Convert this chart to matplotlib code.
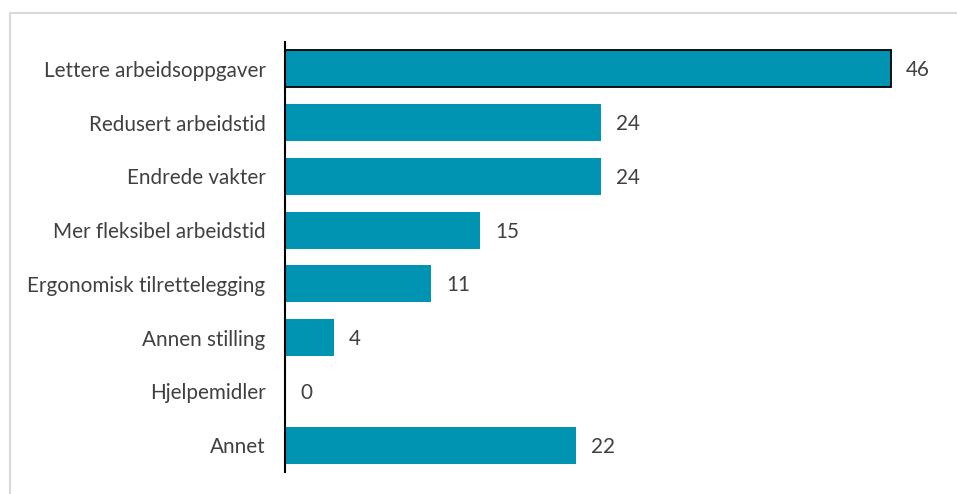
import matplotlib.pyplot as plt
from matplotlib.patches import Rectangle

categories = ["Lettere arbeidsoppgaver", "Redusert arbeidstid", "Endrede vakter",
              "Mer fleksibel arbeidstid", "Ergonomisk tilrettelegging", "Annen stilling",
              "Hjelpemidler", "Annet"]
values = [46, 24, 24, 14.8, 11.1, 3.7, 0, 22.1]

BAR_COLOR = "#0093b2"
TEXT_COLOR = "#404040"

plt.rcParams['font.family'] = ['Lato', 'DejaVu Sans']

fig = plt.figure(figsize=(9.57, 4.94), dpi=100)

# light grey frame round the chart (cut at right and bottom)
frame = Rectangle((9.5 / 957, 0 - 0.05), 1.2, 1 - 12.5 / 494 + 0.05, transform=fig.transFigure,
                  fill=False, edgecolor="#d9d9d9", linewidth=1.5)
fig.patches.append(frame)

ax = fig.add_axes([285 / 957, 1 - 472 / 494, (50 * 13.17) / 957, 430 / 494])
ax.set_facecolor("none")

y = list(range(len(categories)))
bars = ax.barh(y, values, height=0.69, color=BAR_COLOR, zorder=2)
bars[0].set_edgecolor("black")
bars[0].set_linewidth(1.3)

for yi, v in zip(y, values):
    ax.annotate(f"{v:.0f}", (v, yi), xytext=(11, -1), textcoords="offset points",
                ha="left", va="center", fontsize=14.9, color=TEXT_COLOR)

ax.set_xlim(0, 50)
ax.set_ylim(len(categories) - 0.5, -0.5)
ax.set_yticks(y)
ax.set_yticklabels(categories, fontsize=14.9, color=TEXT_COLOR)
ax.tick_params(axis="y", length=0, pad=14)
ax.set_xticks([])
for side in ["top", "right", "bottom"]:
    ax.spines[side].set_visible(False)
ax.spines["left"].set_linewidth(1.5)
ax.spines["left"].set_color("black")
ax.spines["left"].set_zorder(3)

fig.savefig("out.png", dpi=100)
